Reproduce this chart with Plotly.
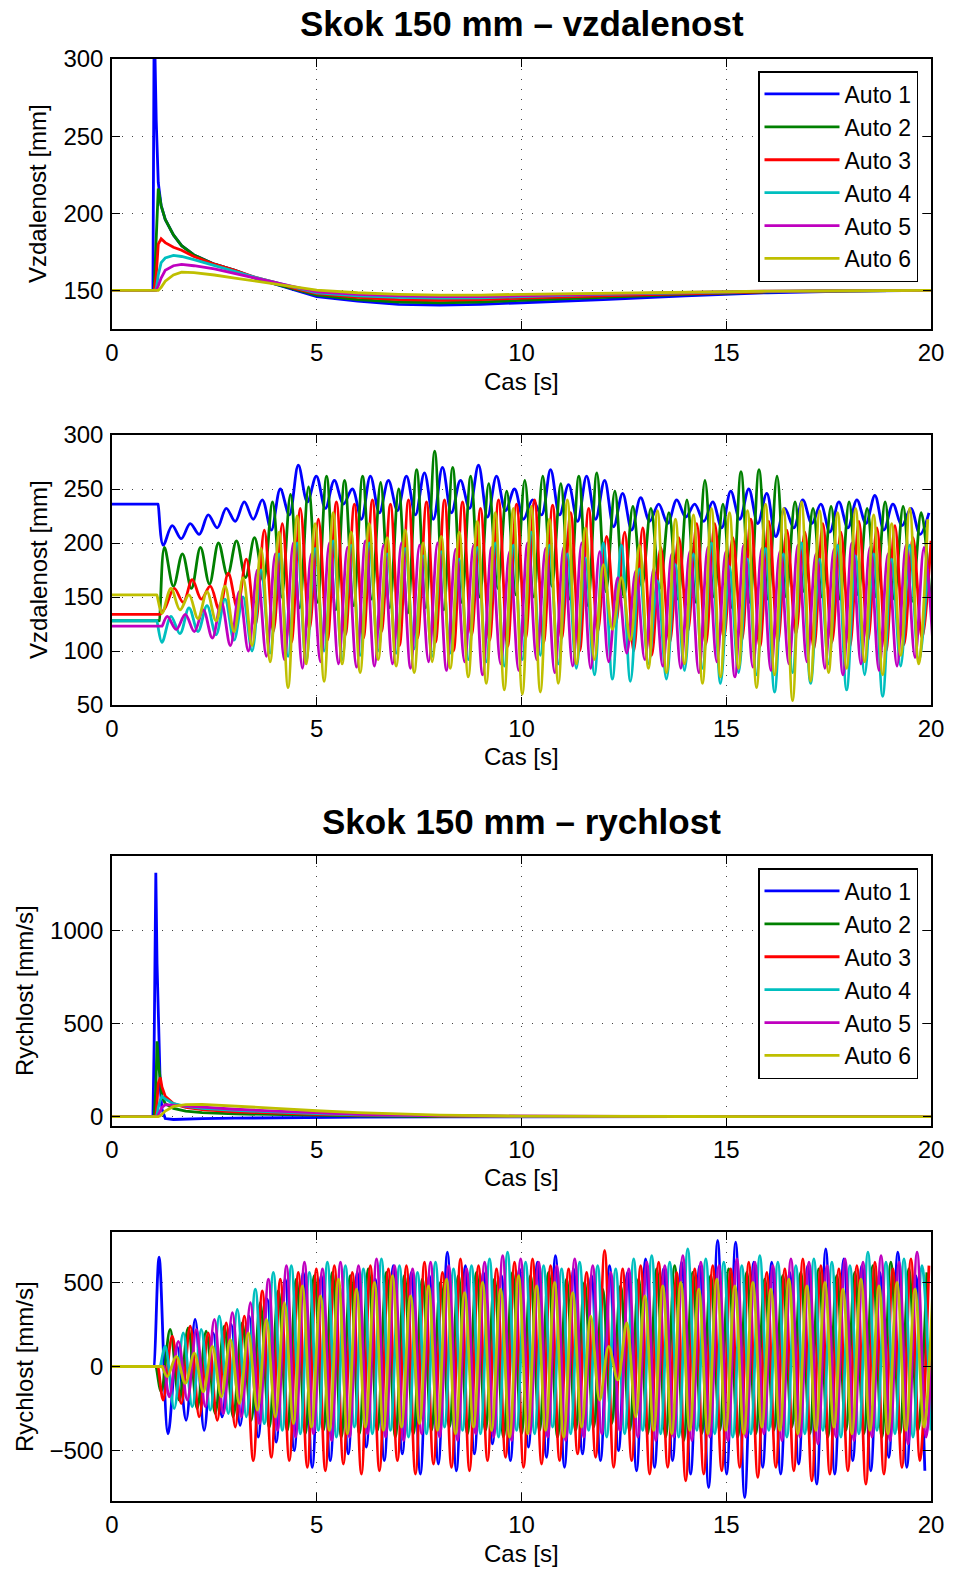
import numpy as np
import plotly.graph_objects as go

# ---------------- DATA ----------------
NAMES = ["Auto 1", "Auto 2", "Auto 3", "Auto 4", "Auto 5", "Auto 6"]
COLORS = ["#0000FF", "#008000", "#FF0000", "#00BFBF", "#BF00BF", "#BFBF00"]

# Panel 1: distance, step response (ideal)
T1 = [0, 1.0, 1.03, 1.08, 1.13, 1.2, 1.3, 1.5, 1.7, 2.0, 2.5, 3.0, 3.5, 4.0, 4.5, 5.0,
      6.0, 7.0, 8.0, 9.0, 10, 12, 14, 16, 18, 20]
D1_auto1 = [150, 150, 330, 260, 220, 205, 196, 186, 179, 173, 167, 163, 158, 154, 150, 146,
            143, 141, 140.5, 141, 142, 144, 146.5, 148.5, 149.5, 150]
D1_auto2 = [150, 150, 151, 190, 216, 205, 196, 186, 179, 173, 167, 163, 158, 154, 150.5, 147,
            144, 142.5, 142, 142.5, 143.5, 145.5, 147.5, 149, 149.8, 150]
D1_auto3 = [150, 150, 150, 160, 180, 183.5, 181, 178, 176, 172, 167, 163, 158.5, 155, 151, 148,
            145.5, 144, 143.5, 144, 145, 146.5, 148, 149.2, 149.8, 150]
D1_auto4 = [150, 150, 150, 151, 160, 168, 171, 172.7, 172, 170, 166, 162.5, 158.5, 155, 151.5, 148.5,
            146.5, 145.5, 145, 145.2, 146, 147.5, 148.5, 149.4, 149.8, 150]
D1_auto5 = [150, 150, 150, 150, 153, 158, 163, 166, 166.9, 166, 164, 161, 158, 155, 152, 149,
            147.5, 146.5, 146, 146, 146.5, 147.8, 148.8, 149.5, 149.8, 150]
D1_auto6 = [150, 150, 150, 150, 150, 152, 156, 160, 161.9, 161.5, 160, 158, 156, 154, 152, 150.2,
            148.5, 147.5, 147, 147, 147.5, 148.3, 149, 149.5, 149.8, 150]

# Panel 3: velocity, step response (ideal)
T3 = [0, 1.0, 1.03, 1.07, 1.1, 1.13, 1.18, 1.22, 1.3, 1.5, 1.8, 2.2, 3, 4, 5, 6, 8, 10, 14, 20]
V1_auto1 = [0, 0, 400, 1310, 820, 500, 150, 40, -10, -15, -12, -10, -8, -5, -3, -2, -1, 0, 0, 0]
V1_auto2 = [0, 0, 0, 150, 405, 300, 170, 110, 70, 45, 30, 22, 15, 10, 6, 4, 1, 0, 0, 0]
V1_auto3 = [0, 0, 0, 0, 80, 180, 210, 160, 110, 70, 50, 38, 26, 18, 12, 8, 3, 1, 0, 0]
V1_auto4 = [0, 0, 0, 0, 10, 50, 90, 110, 95, 70, 55, 45, 34, 24, 16, 10, 4, 1, 0, 0]
V1_auto5 = [0, 0, 0, 0, 0, 10, 30, 50, 65, 62, 56, 50, 40, 30, 20, 13, 5, 2, 0, 0]
V1_auto6 = [0, 0, 0, 0, 0, 0, 5, 12, 30, 55, 65, 66, 58, 45, 32, 22, 8, 3, 1, 0]

# Panel 2: distance, real run (initial value, then alternating extremes every HALF_PERIOD)
HALF_PERIOD = 0.22
D2_INIT = [236, 128, 134, 128, 123, 152]
D2_START = [1.25, 1.28, 1.30, 1.22, 1.35, 1.22]
D2_auto1 = [198, 216, 204, 218, 208, 226, 214, 232, 220, 238, 222, 240, 212, 250, 226, 272, 238, 262, 232, 258,
            236, 250, 222, 262, 228, 258, 230, 262, 226, 265, 222, 270, 228, 258, 232, 272, 224, 262, 230, 250,
            222, 240, 226, 268, 226, 254, 220, 262, 222, 258, 215, 246, 212, 242, 220, 236, 218, 240, 224, 236,
            220, 238, 214, 248, 222, 250, 218, 246, 206, 232, 214, 240, 218, 236, 210, 238, 214, 240, 218, 244,
            212, 236, 216, 232, 208, 228]
D2_auto2 = [196, 160, 190, 158, 196, 162, 200, 170, 202, 168, 205, 165, 238, 150, 245, 140, 252, 145, 262, 138,
            258, 142, 262, 148, 256, 140, 250, 135, 268, 140, 285, 138, 270, 145, 262, 150, 255, 158, 248, 152,
            258, 150, 262, 160, 255, 148, 262, 142, 265, 155, 248, 150, 234, 160, 232, 158, 228, 148, 240, 145,
            258, 150, 236, 140, 266, 145, 268, 148, 262, 150, 238, 155, 232, 150, 234, 148, 238, 152, 232, 150,
            238, 148, 234, 146, 228, 150]
D2_auto3 = [140, 158, 145, 166, 148, 160, 138, 172, 140, 185, 124, 212, 118, 218, 108, 232, 120, 222, 110, 238,
            115, 236, 112, 240, 118, 236, 105, 240, 112, 238, 108, 240, 100, 238, 115, 232, 110, 240, 104, 236,
            112, 240, 108, 235, 112, 228, 100, 232, 118, 206, 125, 210, 100, 214, 96, 196, 108, 205, 118, 218,
            106, 218, 112, 205, 110, 222, 104, 220, 108, 212, 116, 210, 102, 218, 108, 210, 104, 220, 110, 214,
            100, 216, 106, 205, 112, 202]
D2_auto4 = [108, 132, 116, 140, 118, 142, 115, 148, 110, 150, 100, 175, 98, 190, 95, 200, 90, 195, 100, 202,
            92, 198, 96, 200, 100, 190, 98, 195, 102, 188, 95, 192, 98, 185, 92, 196, 90, 200, 86, 198,
            92, 210, 96, 198, 88, 190, 84, 186, 78, 200, 74, 198, 72, 176, 88, 165, 74, 180, 82, 190,
            84, 200, 70, 178, 80, 185, 78, 195, 62, 190, 80, 200, 70, 185, 88, 198, 64, 188, 78, 190,
            58, 185, 86, 198, 90, 176]
D2_auto5 = [132, 120, 134, 118, 138, 112, 145, 105, 155, 100, 175, 95, 190, 92, 200, 84, 190, 90, 200, 88,
            196, 85, 202, 86, 198, 88, 200, 84, 198, 90, 200, 82, 194, 90, 198, 78, 196, 88, 192, 82,
            200, 92, 195, 80, 196, 86, 200, 84, 192, 90, 168, 98, 174, 92, 176, 86, 190, 84, 192, 80,
            196, 90, 192, 76, 198, 85, 195, 82, 192, 88, 198, 90, 190, 84, 194, 78, 200, 88, 196, 82,
            190, 86, 198, 94, 196, 104]
D2_auto6 = [135, 158, 138, 152, 130, 155, 128, 160, 118, 168, 105, 195, 90, 210, 66, 225, 88, 218, 72, 228,
            88, 210, 80, 218, 92, 205, 86, 212, 80, 200, 90, 206, 84, 210, 76, 220, 70, 228, 64, 232,
            60, 234, 62, 222, 70, 240, 88, 214, 92, 180, 120, 168, 110, 198, 84, 230, 80, 222, 88, 226,
            70, 232, 76, 228, 84, 230, 66, 236, 78, 232, 54, 238, 72, 230, 80, 228, 84, 232, 90, 226,
            78, 218, 96, 232, 88, 222]

# Panel 4: velocity, real run (zero, then alternating extremes every HALF_PERIOD)
V2_START = [1.15, 1.20, 1.25, 1.30, 1.40, 1.35]
V2_auto1 = [650, -400, 120, -320, 280, -380, 200, -300, 250, -350, 300, -420, 400, -450, 520, -500, 560, -600, 540, -560,
            480, -520, 560, -480, 520, -560, 600, -520, 560, -640, 540, -580, 680, -620, 600, -520, 560, -460, 540, -560,
            580, -480, 620, -540, 660, -600, 580, -520, 540, -560, 600, -500, 560, -620, 640, -600, 580, -560, 620, -640,
            600, -720, 750, -640, 740, -780, 620, -600, 620, -640, 560, -580, 600, -700, 700, -640, 640, -560, 600, -620,
            560, -540, 680, -600, 540, -620]
V2_auto2 = [-150, 220, -200, 230, -250, 210, -280, 240, -300, 260, -320, 380, -360, 450, -380, 520, -400, 540, -380, 560,
            -420, 540, -400, 580, -380, 560, -420, 540, -400, 520, -380, 500, -360, 540, -400, 560, -380, 520, -420, 560,
            -400, 540, -380, 560, -420, 520, -380, 500, -360, 460, -340, 480, -380, 520, -400, 580, -420, 600, -440, 560,
            -400, 540, -380, 580, -420, 560, -400, 520, -380, 540, -360, 560, -400, 580, -420, 540, -380, 560, -400, 600,
            -420, 620, -400, 580, -380, 560]
V2_auto3 = [-200, 180, -220, 240, -300, 200, -320, 260, -360, 300, -560, 450, -540, 520, -560, 560, -600, 580, -620, 600,
            -580, 560, -640, 600, -620, 580, -560, 600, -640, 620, -580, 560, -600, 640, -620, 600, -560, 580, -540, 620,
            -600, 640, -580, 600, -560, 580, -520, 560, -540, 690, -600, 580, -560, 600, -640, 620, -600, 560, -680, 580,
            -640, 600, -620, 580, -600, 620, -660, 560, -600, 580, -620, 640, -680, 600, -640, 580, -620, 600, -700, 620,
            -640, 580, -600, 640, -560, 600]
V2_auto4 = [120, -250, 200, -240, 220, -260, 300, -280, 340, -300, 460, -340, 560, -380, 600, -400, 560, -380, 620, -420,
            600, -360, 580, -400, 640, -380, 600, -420, 560, -400, 620, -360, 580, -380, 600, -400, 640, -420, 680, -380,
            620, -400, 600, -360, 580, -400, 620, -380, 600, -420, 580, -400, 640, -380, 660, -400, 620, -420, 700, -380,
            640, -400, 620, -420, 600, -400, 660, -380, 620, -420, 600, -400, 640, -380, 620, -420, 600, -400, 680, -380,
            620, -400, 640, -420, 600, -380]
V2_auto5 = [-180, 150, -200, 220, -240, 280, -280, 320, -300, 380, -340, 520, -380, 600, -420, 620, -400, 580, -440, 620,
            -420, 600, -400, 640, -420, 600, -440, 580, -400, 620, -420, 600, -440, 580, -400, 620, -420, 660, -440, 640,
            -400, 620, -420, 600, -440, 640, -420, 600, -400, 560, -380, 580, -420, 620, -440, 600, -420, 660, -440, 620,
            -420, 600, -440, 640, -420, 620, -400, 600, -440, 640, -420, 620, -460, 600, -420, 640, -440, 620, -420, 660,
            -440, 620, -460, 680, -420, 640]
V2_auto6 = [-60, 60, -100, 80, -150, 120, -180, 160, -220, 200, -260, 280, -300, 380, -340, 480, -360, 420, -380, 520,
            -400, 460, -360, 500, -380, 540, -360, 420, -340, 480, -380, 520, -400, 440, -360, 500, -380, 460, -420, 540,
            -400, 480, -380, 500, -420, 440, -360, 300, -200, 120, -80, 260, -300, 420, -380, 480, -400, 500, -380, 460,
            -400, 520, -380, 480, -400, 500, -360, 460, -380, 520, -400, 480, -380, 500, -360, 460, -400, 520, -380, 480,
            -400, 500, -380, 460, -360, 500]

X_TICKS = [0, 5, 10, 15, 20]
Y1_TICKS = [150, 200, 250, 300]
Y2_TICKS = [50, 100, 150, 200, 250, 300]
Y3_TICKS = [0, 500, 1000]
Y4_TICKS = [-500, 0, 500]

D1 = [D1_auto1, D1_auto2, D1_auto3, D1_auto4, D1_auto5, D1_auto6]
D2 = [D2_auto1, D2_auto2, D2_auto3, D2_auto4, D2_auto5, D2_auto6]
V1 = [V1_auto1, V1_auto2, V1_auto3, V1_auto4, V1_auto5, V1_auto6]
V2 = [V2_auto1, V2_auto2, V2_auto3, V2_auto4, V2_auto5, V2_auto6]

# ---------------- FIGURE ----------------
W, H = 954, 1573
FONT = "Liberation Sans, Arial, Helvetica, sans-serif"
fig = go.Figure()
LW = 2.8


def px_x(sx):
    return sx / W


def px_y(sy):
    return 1 - sy / H


def hold_then_oscillate(init, start, vals):
    # constant segment, then the read extremes (extra close points keep the spline from overshooting)
    t = [0.0, start - 0.2, start - 0.13, start - 0.125]
    v = [init, init, init, init]
    t += list(start + HALF_PERIOD * np.arange(len(vals)))
    v += list(vals)
    return t, v


for i in range(6):
    fig.add_trace(go.Scatter(x=T1, y=D1[i], mode="lines", name=NAMES[i],
                             line=dict(color=COLORS[i], width=LW),
                             xaxis="x", yaxis="y", legend="legend"))
for i in range(6):
    t, v = hold_then_oscillate(D2_INIT[i], D2_START[i], D2[i])
    fig.add_trace(go.Scatter(x=t, y=v, mode="lines", name=NAMES[i], showlegend=False,
                             line=dict(color=COLORS[i], width=LW, shape="spline", smoothing=1.0),
                             xaxis="x2", yaxis="y2"))
for i in range(6):
    fig.add_trace(go.Scatter(x=T3, y=V1[i], mode="lines", name=NAMES[i],
                             line=dict(color=COLORS[i], width=LW),
                             xaxis="x3", yaxis="y3", legend="legend2"))
for i in range(6):
    t, v = hold_then_oscillate(0, V2_START[i], V2[i])
    fig.add_trace(go.Scatter(x=t, y=v, mode="lines", name=NAMES[i], showlegend=False,
                             line=dict(color=COLORS[i], width=LW, shape="spline", smoothing=1.0),
                             xaxis="x4", yaxis="y4"))

XD = [px_x(112), px_x(931)]
panels = [(59, 329, [125, 300], Y1_TICKS), (435, 705, [50, 300], Y2_TICKS),
          (856, 1126, [-50, 1400], Y3_TICKS), (1232, 1501, [-800, 800], Y4_TICKS)]

axcommon = dict(showline=True, linecolor="black", linewidth=1.5, mirror="allticks",
                ticks="inside", ticklen=8, tickcolor="black", tickwidth=1,
                showgrid=True, gridcolor="#444444", gridwidth=1, griddash="1px,9px",
                zeroline=False, automargin=False,
                tickfont=dict(family=FONT, size=24, color="black"))

layout = dict(width=W, height=H, margin=dict(l=0, r=0, t=0, b=0, pad=0, autoexpand=False),
              plot_bgcolor="white", paper_bgcolor="white",
              font=dict(family=FONT, size=24, color="black"))
for k, (top, bot, yr, yt) in enumerate(panels):
    sfx = "" if k == 0 else str(k + 1)
    layout["xaxis" + sfx] = dict(domain=XD, range=[0, 20], tickvals=X_TICKS,
                                 anchor="y" + sfx, ticklabelstandoff=1, **axcommon)
    layout["yaxis" + sfx] = dict(domain=[px_y(bot), px_y(top)], range=yr, tickvals=yt,
                                 anchor="x" + sfx, ticklabelstandoff=2, **axcommon)

legcommon = dict(bgcolor="white", bordercolor="black", borderwidth=1.5,
                 font=dict(family=FONT, size=23, color="black"),
                 xanchor="right", yanchor="top", x=px_x(918), itemwidth=75,
                 tracegroupgap=0, itemclick=False)
layout["legend"] = dict(y=px_y(71), **legcommon)
layout["legend2"] = dict(y=px_y(868), **legcommon)
fig.update_layout(**layout)

ann = []
ann.append(dict(text="<b>Skok 150 mm – vzdalenost</b>", x=px_x(521.5), y=px_y(24), xref="paper", yref="paper",
                showarrow=False, font=dict(family=FONT, size=35, color="black"), xanchor="center", yanchor="middle"))
ann.append(dict(text="<b>Skok 150 mm – rychlost</b>", x=px_x(521.5), y=px_y(821), xref="paper", yref="paper",
                showarrow=False, font=dict(family=FONT, size=35, color="black"), xanchor="center", yanchor="middle"))
xlab_y = [381, 756, 1177, 1553]
ylab = [("Vzdalenost [mm]", 38, 194), ("Vzdalenost [mm]", 38, 570),
        ("Rychlost [mm/s]", 24, 991), ("Rychlost [mm/s]", 24, 1367)]
for k in range(4):
    ann.append(dict(text="Cas [s]", x=px_x(521.5), y=px_y(xlab_y[k]), xref="paper", yref="paper",
                    showarrow=False, font=dict(family=FONT, size=24, color="black"),
                    xanchor="center", yanchor="middle"))
    t, xp, yp = ylab[k]
    ann.append(dict(text=t, x=px_x(xp), y=px_y(yp), xref="paper", yref="paper", textangle=-90,
                    showarrow=False, font=dict(family=FONT, size=24, color="black"),
                    xanchor="center", yanchor="middle"))
fig.update_layout(annotations=ann)

# place the figure at the page corner so it fills the 954x1573 window exactly
fig.write_html("out.html", config={"displayModeBar": False},
               post_script="document.body.style.margin='0px';")
